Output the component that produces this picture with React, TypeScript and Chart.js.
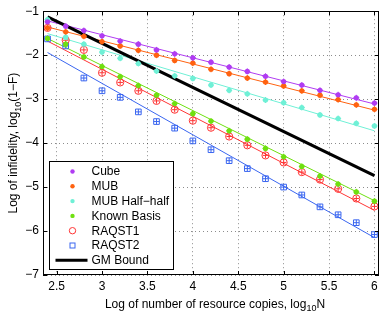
import React, { useEffect, useRef } from "react";
import { Chart, registerables } from "chart.js";
Chart.register(...registerables);

const LOG_N = [2.4, 2.6, 2.8, 3.0, 3.2, 3.4, 3.6, 3.8, 4.0, 4.2, 4.4, 4.6, 4.8, 5.0, 5.2, 5.4, 5.6, 5.8, 6.0];
const CUBE = [-1.24, -1.34, -1.44, -1.56, -1.68, -1.75, -1.88, -1.97, -2.06, -2.16, -2.27, -2.37, -2.48, -2.6, -2.68, -2.8, -2.9, -2.97, -3.09];
const MUB = [-1.38, -1.47, -1.57, -1.69, -1.79, -1.89, -2.0, -2.12, -2.18, -2.32, -2.42, -2.52, -2.61, -2.7, -2.81, -2.91, -3.01, -3.13, -3.23];
const MUB_HALF = [-1.19, -1.59, -1.75, -1.93, -2.07, -2.19, -2.36, -2.47, -2.53, -2.68, -2.8, -2.88, -3.02, -3.08, -3.19, -3.36, -3.44, -3.55, -3.61];
const KNOWN = [-1.62, -1.75, -2.04, -2.26, -2.49, -2.69, -2.91, -3.1, -3.33, -3.5, -3.72, -3.91, -4.12, -4.31, -4.53, -4.75, -4.93, -5.11, -5.32];
const RAQST1 = [-1.38, -1.66, -1.88, -2.4, -2.62, -2.81, -3.04, -3.24, -3.49, -3.65, -3.85, -4.05, -4.28, -4.44, -4.66, -4.83, -5.04, -5.26, -5.44];
const RAQST2 = [-1.63, -1.79, -2.52, -2.81, -2.96, -3.29, -3.51, -3.66, -3.95, -4.15, -4.4, -4.58, -4.81, -5.0, -5.18, -5.45, -5.63, -5.81, -6.08];

const FIT_X = [2.4, 6.0];
const CUBE_FIT = [-1.22, -3.11];
const MUB_FIT = [-1.36, -3.25];
const MUB_HALF_FIT = [-1.51, -3.72];
const KNOWN_FIT = [-1.62, -5.31];
const RAQST1_FIT = [-1.68, -5.53];
const RAQST2_FIT = [-1.94, -6.15];
const GM_BOUND = [-1.13, -4.74];

const X_TICKS = [2.5, 3, 3.5, 4, 4.5, 5, 5.5, 6];
const Y_TICKS = [-7, -6, -5, -4, -3, -2, -1];
const X_RANGE = [2.35, 6.05];
const Y_RANGE = [-7, -1];

const FONT = "'Liberation Sans', Arial, Helvetica, sans-serif";
const MINUS = "\u2212";

const SERIES = [
  { label: "Cube", values: CUBE, fit: CUBE_FIT, color: "#b03cf2", kind: "dot" },
  { label: "MUB", values: MUB, fit: MUB_FIT, color: "#ff6210", kind: "dot" },
  { label: "MUB Half" + MINUS + "half", values: MUB_HALF, fit: MUB_HALF_FIT, color: "#6ff0d6", kind: "dot" },
  { label: "Known Basis", values: KNOWN, fit: KNOWN_FIT, color: "#6fe010", kind: "dot" },
  { label: "RAQST1", values: RAQST1, fit: RAQST1_FIT, color: "#ff3535", kind: "circle" },
  { label: "RAQST2", values: RAQST2, fit: RAQST2_FIT, color: "#3a66f0", kind: "square" },
];
const GM_LABEL = "GM Bound";

const fmt = (v: number) => (v < 0 ? MINUS + String(Math.abs(v)) : String(v));

const framePlugin = {
  id: "frame",
  afterDraw(chart: any) {
    const { ctx, chartArea: a } = chart;
    ctx.save();
    ctx.strokeStyle = "#000";
    ctx.lineWidth = 1;
    ctx.strokeRect(Math.round(a.left) + 0.5, Math.round(a.top) + 0.5, Math.round(a.right - a.left) - 1, Math.round(a.bottom - a.top) - 1);
    // inward tick marks
    const xs = chart.scales.x, ys = chart.scales.y;
    ctx.beginPath();
    X_TICKS.forEach((t) => {
      const px = Math.round(xs.getPixelForValue(t)) + 0.5;
      ctx.moveTo(px, a.bottom); ctx.lineTo(px, a.bottom - 4);
      ctx.moveTo(px, a.top); ctx.lineTo(px, a.top + 4);
    });
    Y_TICKS.forEach((t) => {
      const py = Math.round(ys.getPixelForValue(t)) + 0.5;
      ctx.moveTo(a.left, py); ctx.lineTo(a.left + 4, py);
      ctx.moveTo(a.right, py); ctx.lineTo(a.right - 4, py);
    });
    ctx.stroke();

    // legend
    const x0 = Math.round(a.left) + 6.5;
    const y0 = Math.round(a.bottom) - 113.5;
    const w = 124, h = 108;
    ctx.fillStyle = "#fff";
    ctx.fillRect(x0, y0, w, h);
    ctx.strokeStyle = "#000";
    ctx.strokeRect(x0, y0, w, h);
    ctx.font = `12px ${FONT}`;
    ctx.textBaseline = "middle";
    ctx.textAlign = "left";
    const mx = x0 + 23;
    const tx = x0 + 42;
    const items = [...SERIES.map((s) => ({ label: s.label, color: s.color, kind: s.kind })), { label: GM_LABEL, color: "#000", kind: "line" }];
    items.forEach((it, i) => {
      const cy = y0 + 10 + i * 14.8;
      ctx.lineWidth = 1;
      if (it.kind === "dot") {
        ctx.fillStyle = it.color;
        ctx.beginPath(); ctx.arc(mx, cy, 2.2, 0, Math.PI * 2); ctx.fill();
      } else if (it.kind === "circle") {
        ctx.strokeStyle = it.color;
        ctx.beginPath(); ctx.arc(mx, cy, 3.2, 0, Math.PI * 2); ctx.stroke();
      } else if (it.kind === "square") {
        ctx.strokeStyle = it.color;
        ctx.strokeRect(mx - 2.5, cy - 2.5, 5, 5);
      } else {
        ctx.strokeStyle = it.color;
        ctx.lineWidth = 3;
        ctx.beginPath(); ctx.moveTo(x0 + 6, cy); ctx.lineTo(x0 + 38, cy); ctx.stroke();
      }
      ctx.fillStyle = "#000";
      ctx.fillText(it.label, tx, cy + 0.5);
    });

    // axis titles with subscripts
    const drawParts = (parts: { t: string; sub?: boolean }[], cx: number, baseY: number) => {
      const widths = parts.map((p) => {
        ctx.font = p.sub ? `9px ${FONT}` : `12px ${FONT}`;
        return ctx.measureText(p.t).width;
      });
      const total = widths.reduce((s, v) => s + v, 0);
      let x = cx - total / 2;
      ctx.textBaseline = "alphabetic";
      ctx.fillStyle = "#000";
      parts.forEach((p, i) => {
        ctx.font = p.sub ? `9px ${FONT}` : `12px ${FONT}`;
        ctx.fillText(p.t, x, baseY + (p.sub ? 3.5 : 0));
        x += widths[i];
      });
    };
    drawParts([{ t: "Log of number of resource copies, log" }, { t: "10", sub: true }, { t: "N" }], (a.left + a.right) / 2 + 4, 307.5);
    ctx.save();
    ctx.translate(17, (a.top + a.bottom) / 2);
    ctx.rotate(-Math.PI / 2);
    drawParts([{ t: "Log of infidelity, log" }, { t: "10", sub: true }, { t: "(1" + MINUS + "F)" }], 0, 0);
    ctx.restore();
    ctx.restore();
  },
};

export default function App() {
  const ref = useRef<HTMLCanvasElement | null>(null);
  useEffect(() => {
    document.body.style.margin = "0";
    const datasets: any[] = [];
    SERIES.forEach((s) => {
      const pts = LOG_N.map((x, i) => ({ x, y: s.values[i] }));
      const open = s.kind !== "dot";
      datasets.push({
        label: s.label,
        data: pts,
        showLine: false,
        pointStyle: s.kind === "square" ? "rect" : "circle",
        pointRadius: s.kind === "dot" ? 2.6 : s.kind === "square" ? 4 : 3.6,
        pointBackgroundColor: open ? "rgba(0,0,0,0)" : s.color,
        pointBorderColor: s.color,
        pointBorderWidth: open ? 1 : 0,
        order: 0,
      });
      datasets.push({
        label: s.label + " err",
        data: pts,
        showLine: false,
        pointStyle: "cross",
        pointRadius: open ? 2.8 : 3,
        pointBorderColor: s.color,
        pointBorderWidth: 1,
        order: 1,
      });
      datasets.push({
        label: s.label + " fit",
        data: FIT_X.map((x, i) => ({ x, y: s.fit[i] })),
        borderColor: s.color,
        borderWidth: 1,
        pointRadius: 0,
        fill: false,
        order: 3,
      });
    });
    datasets.push({
      label: GM_LABEL,
      data: FIT_X.map((x, i) => ({ x, y: GM_BOUND[i] })),
      borderColor: "#000",
      borderWidth: 3.2,
      pointRadius: 0,
      fill: false,
      order: 2,
    });

    const chart = new Chart(ref.current as HTMLCanvasElement, {
      type: "line",
      data: { datasets },
      options: {
        animation: false,
        responsive: false,
        devicePixelRatio: 1,
        layout: { padding: { top: 10, right: 11, left: 0, bottom: 0 } },
        plugins: { legend: { display: false }, tooltip: { enabled: false } },
        scales: {
          x: {
            type: "linear",
            min: X_RANGE[0],
            max: X_RANGE[1],
            afterBuildTicks: (sc: any) => { sc.ticks = X_TICKS.map((v) => ({ value: v })); },
            afterFit: (sc: any) => { sc.height = 41; },
            ticks: { color: "#000", font: { family: FONT, size: 12 }, padding: 4, maxRotation: 0, autoSkip: false, callback: (v: any) => fmt(Number(v)) },
            grid: { color: "rgba(0,0,0,0.45)", drawTicks: false, lineWidth: 1 },
            border: { display: false, dash: [1, 3] },
          },
          y: {
            type: "linear",
            min: Y_RANGE[0],
            max: Y_RANGE[1],
            afterBuildTicks: (sc: any) => { sc.ticks = Y_TICKS.map((v) => ({ value: v })); },
            afterFit: (sc: any) => { sc.width = 43; },
            ticks: { color: "#000", font: { family: FONT, size: 12 }, padding: 4, autoSkip: false, callback: (v: any) => fmt(Number(v)) },
            grid: { color: "rgba(0,0,0,0.45)", drawTicks: false, lineWidth: 1 },
            border: { display: false, dash: [1, 3] },
          },
        },
      },
      plugins: [framePlugin],
    });
    return () => chart.destroy();
  }, []);
  return <canvas ref={ref} width={390} height={316} style={{ display: "block", width: 390, height: 316 }} />;
}
